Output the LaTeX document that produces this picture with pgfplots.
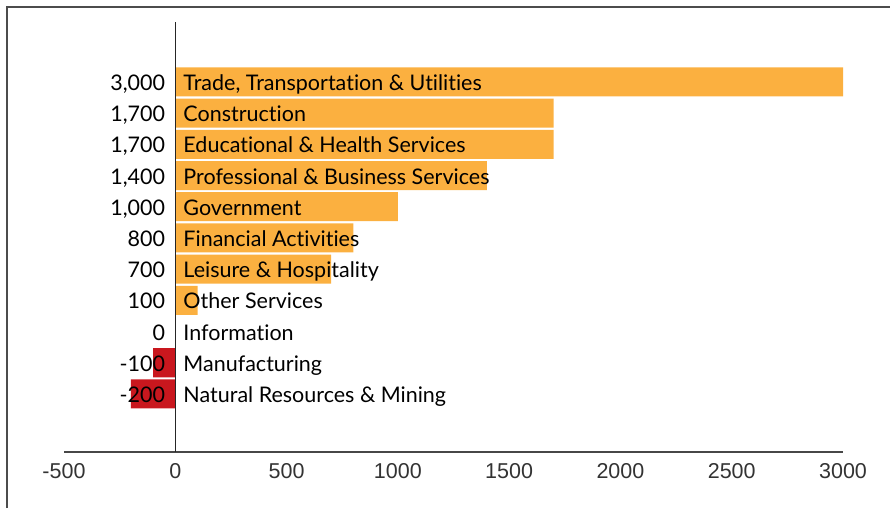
\documentclass[border=0pt]{standalone}
\usepackage{pgfplots}
\pgfplotsset{compat=1.18}
\usepackage{fontspec}
\setmainfont{Lato}[Ligatures={NoCommon}]
\newfontfamily\arialfont{Liberation Sans}
\definecolor{barorange}{RGB}{251,176,64}
\definecolor{barred}{RGB}{201,23,30}
\begin{document}
\begin{tikzpicture}[x=1pt,y=1pt]
\begin{axis}[
  at={(0,0)}, anchor=south west,
  scale only axis, width=779pt, height=430pt,
  xmin=-500, xmax=3000, ymin=-1.92, ymax=11.86, y dir=reverse,
  axis x line*=bottom, hide y axis,
  xtick={-500,0,...,3000}, major tick length=0pt,
  x axis line style={draw=black!72, line width=2pt},
  /pgf/number format/assume math mode=true,
  /pgf/number format/1000 sep={},
  xticklabel style={font=\arialfont\fontsize{21.5}{24}\selectfont, text=black!80, yshift=-8pt},
  xbar, bar width=0.93, bar shift=0pt,
  clip=false,
]
\addplot[fill=barorange, draw=none] coordinates {(3000,0) (1700,1) (1700,2) (1400,3) (1000,4) (800,5) (700,6) (100,7) (0,8)};
\addplot[fill=barred, draw=none] coordinates {(-100,9) (-200,10)};
\draw[black!85, line width=1.5pt] (axis cs:0,-1.92) -- (axis cs:0,11.86);
\tikzset{vl/.style={anchor=base east, inner sep=0pt, xshift=-10pt, yshift=-8.5pt, font=\fontsize{21.5}{24}\selectfont},
         cl/.style={anchor=base west, inner sep=0pt, xshift=8pt, yshift=-8.5pt, font=\fontsize{21.5}{24}\selectfont}}
\node[vl] at (axis cs:0,0) {3,000};
\node[vl] at (axis cs:0,1) {1,700};
\node[vl] at (axis cs:0,2) {1,700};
\node[vl] at (axis cs:0,3) {1,400};
\node[vl] at (axis cs:0,4) {1,000};
\node[vl] at (axis cs:0,5) {800};
\node[vl] at (axis cs:0,6) {700};
\node[vl] at (axis cs:0,7) {100};
\node[vl] at (axis cs:0,8) {0};
\node[vl] at (axis cs:0,9) {-100};
\node[vl] at (axis cs:0,10) {-200};
\node[cl] at (axis cs:0,0) {Trade, Transportation \& Utilities};
\node[cl] at (axis cs:0,1) {Construction};
\node[cl] at (axis cs:0,2) {Educational \& Health Services};
\node[cl] at (axis cs:0,3) {Professional \& Business Services};
\node[cl] at (axis cs:0,4) {Government};
\node[cl] at (axis cs:0,5) {Financial Activities};
\node[cl] at (axis cs:0,6) {Leisure \& Hospitality};
\node[cl] at (axis cs:0,7) {Other Services};
\node[cl] at (axis cs:0,8) {Information};
\node[cl] at (axis cs:0,9) {Manufacturing};
\node[cl] at (axis cs:0,10) {Natural Resources \& Mining};
\end{axis}
\draw[black!70, line width=1.6pt] (-57,-56) -- (-57,445) -- (826,445);
\pgfresetboundingbox
\useasboundingbox (-64,-56) rectangle (826,452);
\end{tikzpicture}
\end{document}
